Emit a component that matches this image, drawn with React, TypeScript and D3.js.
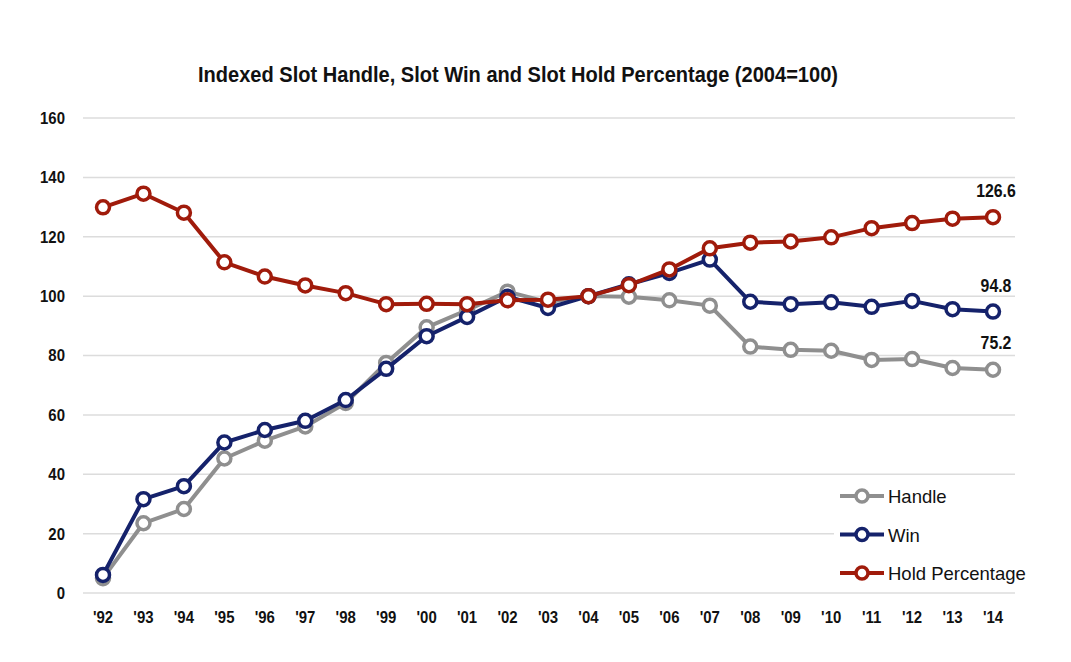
import React from "react";
import * as d3 from "d3";

const years = ["'92","'93","'94","'95","'96","'97","'98","'99","'00","'01","'02","'03","'04","'05","'06","'07","'08","'09","'10","'11","'12","'13","'14"];
const handle = [5, 23.5, 28.3, 45.3, 51.3, 56.1, 64, 77.5, 89.5, 95.3, 101.5, 98, 100, 99.8, 98.6, 96.8, 83, 81.9, 81.6, 78.5, 78.8, 75.8, 75.2];
const win = [6.1, 31.6, 36, 50.7, 54.9, 58, 65, 75.5, 86.5, 93, 99.8, 96, 100, 104, 107.8, 112.3, 98.1, 97.3, 97.9, 96.4, 98.4, 95.6, 94.8];
const hold = [129.9, 134.5, 128.1, 111.4, 106.6, 103.6, 101, 97.3, 97.4, 97.3, 98.6, 98.8, 100, 103.7, 109, 116.1, 118, 118.4, 119.8, 122.9, 124.6, 126.1, 126.6];
const yTicks = [0, 20, 40, 60, 80, 100, 120, 140, 160];

const seriesList = [
  { name: "Handle", values: handle, color: "#8f8f8f" },
  { name: "Win", values: win, color: "#15226b" },
  { name: "Hold Percentage", values: hold, color: "#a01b0b" },
];

const W = 1071, H = 662;
const font = "'Liberation Sans', Arial, sans-serif";

export default function App() {
  const x = d3.scalePoint<string>().domain(years).range([103, 993]);
  const y = d3.scaleLinear().domain([0, 160]).range([593, 118]);
  const line = d3.line<number>().x((_, i) => x(years[i]) as number).y((d) => y(d));

  const lastIdx = years.length - 1;
  const endLabels = [
    { v: hold[lastIdx], dy: -20 },
    { v: win[lastIdx], dy: -19.5 },
    { v: handle[lastIdx], dy: -21 },
  ];

  return (
    <svg width={W} height={H} style={{ position: "absolute", left: 0, top: 0, background: "#fff" }}>
      <text x={518} y={82} textAnchor="middle" fontFamily={font} fontWeight="bold" fontSize={22} fill="#111"
        textLength={640} lengthAdjust="spacingAndGlyphs">
        Indexed Slot Handle, Slot Win and Slot Hold Percentage (2004=100)
      </text>
      {yTicks.map((t) => (
        <g key={t}>
          <line x1={83} x2={1015} y1={y(t)} y2={y(t)} stroke="#dcdcdc" strokeWidth={1.5} />
          <text x={65} y={y(t) + 6} textAnchor="end" fontFamily={font} fontWeight="bold" fontSize={17} fill="#111"
            transform={`translate(${65 * 0.12},0) scale(0.88,1)`} style={{ transformOrigin: "0 0" }}>
            {t}
          </text>
        </g>
      ))}
      {years.map((yr) => (
        <text key={yr} x={(x(yr) as number) / 0.88} y={623} textAnchor="middle" fontFamily={font} fontWeight="bold" fontSize={17} fill="#111"
          transform="scale(0.88,1)">
          {yr}
        </text>
      ))}
      {seriesList.map((s) => (
        <g key={s.name}>
          <path d={line(s.values) || ""} fill="none" stroke={s.color} strokeWidth={4} strokeLinejoin="round" />
          {s.values.map((v, i) => (
            <circle key={i} cx={x(years[i])} cy={y(v)} r={6.5} fill="#fff" stroke={s.color} strokeWidth={3.5} />
          ))}
        </g>
      ))}
      {endLabels.map((l, i) => (
        <text key={i} x={((x(years[lastIdx]) as number) + 3) / 0.88} y={y(l.v) + l.dy} textAnchor="middle" fontFamily={font} fontWeight="bold" fontSize={18} fill="#111"
          transform="scale(0.88,1)">
          {l.v.toFixed(1)}
        </text>
      ))}
      <rect x={834} y={478} width={195} height={112} fill="#fff" />
      {seriesList.map((s, i) => {
        const ly = 496 + i * 38.5;
        return (
          <g key={s.name}>
            <line x1={840} x2={884} y1={ly} y2={ly} stroke={s.color} strokeWidth={4} />
            <circle cx={862} cy={ly} r={6} fill="#fff" stroke={s.color} strokeWidth={3.5} />
            <text x={888} y={ly + 7} fontFamily={font} fontSize={18.5} fill="#111">
              {s.name}
            </text>
          </g>
        );
      })}
    </svg>
  );
}
